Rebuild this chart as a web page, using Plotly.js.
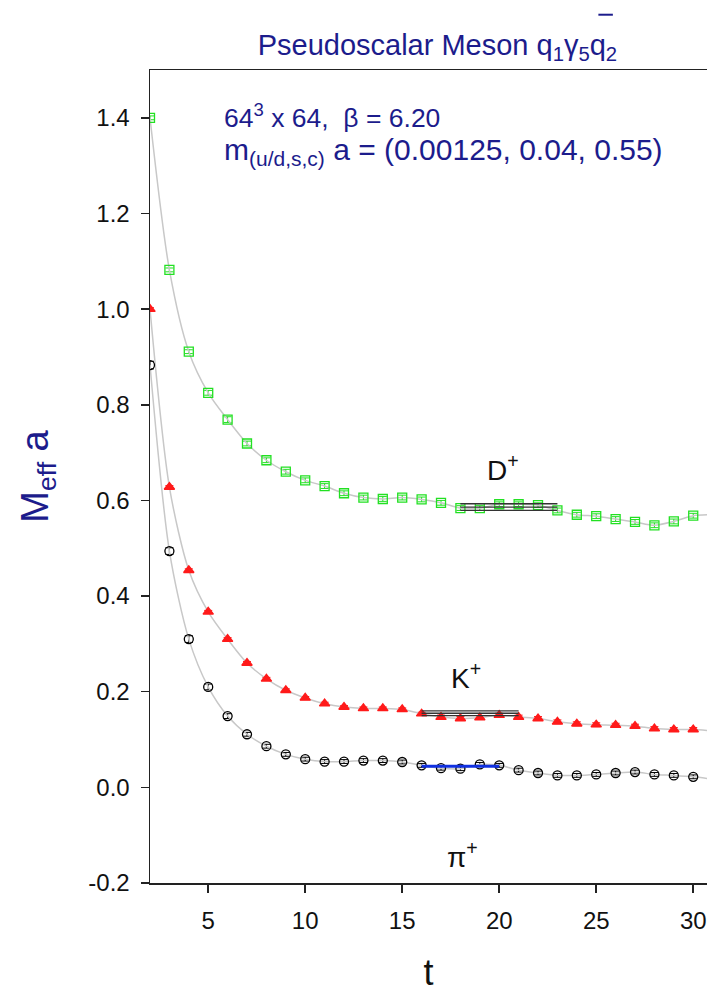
<!DOCTYPE html>
<html>
<head>
<meta charset="utf-8">
<script src="https://cdn.plot.ly/plotly-3.0.1.min.js"></script>
<style>
html,body{margin:0;padding:0;background:#fff;overflow:hidden;}
#chart{width:707px;height:997px;}
</style>
</head>
<body>
<div id="chart"></div>
<script>
// Euclidean time slices
const tValues = [2,3,4,5,6,7,8,9,10,11,12,13,14,15,16,17,18,19,20,21,22,23,24,25,26,27,28,29,30,31];

// Effective masses (lattice units)
const dMeson = [1.400,1.082,0.911,0.825,0.769,0.719,0.684,0.660,0.642,0.630,0.615,0.606,0.603,0.606,0.602,0.595,0.584,0.584,0.592,0.592,0.590,0.579,0.570,0.567,0.561,0.555,0.548,0.556,0.568,0.570];
const dErr   = [0.004,0.004,0.004,0.005,0.006,0.005,0.005,0.005,0.005,0.005,0.005,0.005,0.005,0.005,0.005,0.005,0.005,0.005,0.005,0.005,0.005,0.005,0.005,0.005,0.005,0.005,0.005,0.005,0.005,0.005];
const kMeson = [1.000,0.628,0.454,0.367,0.310,0.260,0.227,0.203,0.187,0.175,0.168,0.165,0.165,0.163,0.154,0.147,0.144,0.146,0.151,0.147,0.144,0.137,0.133,0.131,0.130,0.128,0.123,0.121,0.121,0.118];
const kErr   = [0.003,0.003,0.003,0.003,0.003,0.003,0.003,0.003,0.003,0.003,0.003,0.003,0.003,0.003,0.003,0.004,0.004,0.004,0.004,0.004,0.004,0.004,0.004,0.004,0.004,0.004,0.004,0.004,0.004,0.004];
const piMeson = [0.883,0.494,0.310,0.210,0.149,0.111,0.086,0.069,0.059,0.054,0.054,0.056,0.056,0.053,0.046,0.040,0.039,0.048,0.046,0.036,0.030,0.025,0.025,0.027,0.030,0.032,0.027,0.025,0.022,0.017];
const piErr   = [0.008,0.007,0.007,0.006,0.005,0.004,0.004,0.004,0.004,0.004,0.004,0.004,0.004,0.004,0.004,0.004,0.004,0.004,0.004,0.004,0.004,0.004,0.004,0.004,0.004,0.004,0.004,0.004,0.004,0.004];

// Plateau fits: [D, K, pi]
const fitNames  = ["D+", "K+", "pi+"];
const fitStart  = [18, 16, 16];
const fitEnd    = [23, 21, 20];
const fitMass   = [0.586, 0.155, 0.044];
const fitErr    = [0.007, 0.005, 0.002];

// Text labels
const titleText = "Pseudoscalar Meson q<sub>1</sub>γ<sub>5</sub>q<sub>2</sub>";
const infoLine1 = "64<sup>3</sup> x 64,  β = 6.20";
const infoLine2 = "m<sub>(u/d,s,c)</sub> a = (0.00125, 0.04, 0.55)";

const navy = "#1c1c8c";
const fontFam = "Liberation Sans, Arial, sans-serif";

function seriesTrace(y, err, color, symbol, name, size) {
  return {
    x: tValues, y: y, name: name, type: "scatter", mode: "lines+markers",
    line: {color: "#c8c8c8", width: 1.5, shape: "spline", smoothing: 0.8},
    marker: {symbol: symbol, size: size, color: color, line: {color: color, width: 1.3}},
    error_y: {type: "data", array: err, visible: true, color: color, thickness: 1, width: 4},
    showlegend: false, hoverinfo: "x+y"
  };
}

const traces = [
  seriesTrace(dMeson, dErr, "#22e022", "square-open", "D+", 9),
  seriesTrace(kMeson, kErr, "#ff1a1a", "triangle-up", "K+", 9),
  seriesTrace(piMeson, piErr, "#000000", "circle-open", "pi+", 9)
];

const fitColors = ["#333333", "#333333", "#1030e0"];
const fitWidths = [1.4, 1.4, 3];
for (let i = 0; i < fitNames.length; i++) {
  const xs = [fitStart[i], fitEnd[i]];
  const offs = i === 2 ? [0] : [-fitErr[i], 0, fitErr[i]];
  offs.forEach(o => {
    traces.push({
      x: xs, y: [fitMass[i] + o, fitMass[i] + o], type: "scatter", mode: "lines",
      line: {color: fitColors[i], width: o === 0 ? fitWidths[i] : 1.3},
      showlegend: false, hoverinfo: "skip"
    });
  });
}

const layout = {
  width: 707, height: 997,
  margin: {l: 150, r: 0, t: 70, b: 114},
  paper_bgcolor: "#ffffff", plot_bgcolor: "#ffffff",
  font: {family: fontFam, color: "#111111", size: 24},
  showlegend: false,
  title: {text: titleText, font: {family: fontFam, size: 29, color: navy},
          xref: "paper", x: 0.516, xanchor: "center", yref: "container", y: 0.955, yanchor: "middle"},
  xaxis: {
    range: [2, 30.71], showgrid: false, zeroline: false,
    showline: true, linecolor: "#222", linewidth: 1.5, mirror: true,
    ticks: "outside", ticklen: 8, tickwidth: 1.5, tickcolor: "#222",
    ticklabelstandoff: 8,
    tickvals: [5, 10, 15, 20, 25, 30], ticktext: ["5", "10", "15", "20", "25", "30"],
    tickfont: {size: 24, color: "#111"},
    title: {text: "t", font: {size: 36, color: "#111"}, standoff: 26}
  },
  yaxis: {
    range: [-0.2, 1.5], showgrid: false, zeroline: false,
    showline: true, linecolor: "#222", linewidth: 1.5, mirror: false,
    ticks: "outside", ticklen: 8, tickwidth: 1.5, tickcolor: "#222",
    ticklabelstandoff: 6,
    tickvals: [-0.2, 0, 0.2, 0.4, 0.6, 0.8, 1.0, 1.2, 1.4],
    ticktext: ["-0.2", "0.0", "0.2", "0.4", "0.6", "0.8", "1.0", "1.2", "1.4"],
    tickfont: {size: 24, color: "#111"},
    title: {text: "M<sub>eff</sub> a", font: {size: 38, color: navy}, standoff: 28}
  },
  annotations: [
    {text: infoLine1, xref: "paper", yref: "paper", x: 0.129, y: 0.944, xanchor: "left", yanchor: "middle",
     showarrow: false, font: {size: 26.5, color: navy}},
    {text: infoLine2, xref: "paper", yref: "paper", x: 0.129, y: 0.9, xanchor: "left", yanchor: "middle",
     showarrow: false, font: {size: 30, color: navy}},
    {text: "D<sup>+</sup>", x: 20.2, y: 0.667, xref: "x", yref: "y", showarrow: false,
     font: {size: 28, color: "#111"}},
    {text: "K<sup>+</sup>", x: 18.3, y: 0.232, xref: "x", yref: "y", showarrow: false,
     font: {size: 28, color: "#111"}},
    {text: "π<sup>+</sup>", x: 18.1, y: -0.142, xref: "x", yref: "y", showarrow: false,
     font: {size: 28, color: "#111"}}
  ],
  shapes: [
    {type: "line", xref: "paper", yref: "paper", x0: 0.805, x1: 0.831, y0: 1.068, y1: 1.068,
     line: {color: navy, width: 2}}
  ]
};

Plotly.newPlot("chart", traces, layout, {displayModeBar: false, staticPlot: true});
</script>
</body>
</html>
